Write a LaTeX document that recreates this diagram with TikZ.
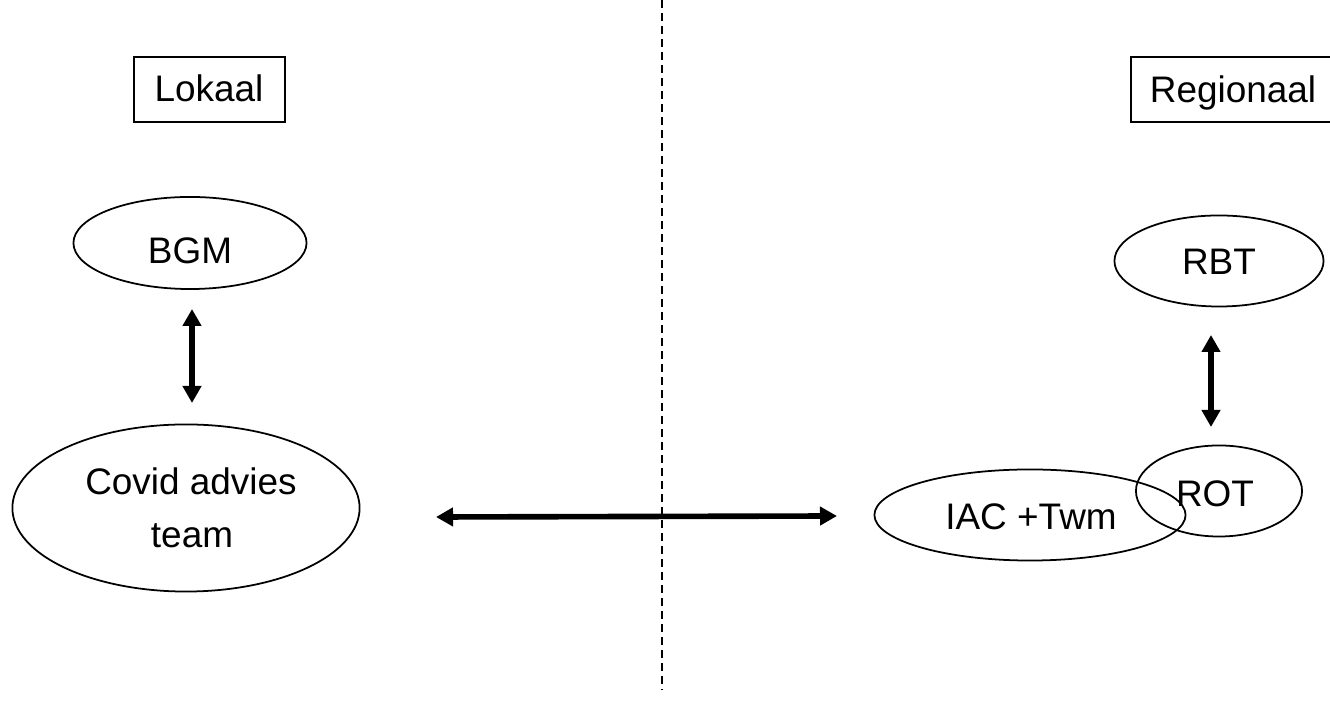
\documentclass[tikz,border=0pt]{standalone}
\usepackage{fontspec}
\setmainfont{Liberation Sans}
\usetikzlibrary{shapes.geometric,arrows.meta}
\begin{document}
\begin{tikzpicture}[x=0.01cm,y=-0.01cm,
  every node/.style={font=\fontsize{10.5}{16.2}\selectfont, inner sep=0pt},
  txt/.style={anchor=base},
  labelbox/.style={draw, line width=0.5pt, anchor=north west},
  unit/.style={draw, ellipse, line width=0.5pt},
  link/.style={line width=1.6pt, {Triangle[length=0.17cm,width=0.18cm]}-{Triangle[length=0.17cm,width=0.18cm]}},
  divider/.style={line width=0.4pt, dash pattern=on 0.08cm off 0.05cm}]
\useasboundingbox (0,0) rectangle (1330,701);

% separator between the local and regional side
\coordinate (divtop) at (662,0);
\coordinate (divbot) at (662,690);
\draw[divider] (divtop) -- (divbot);

% side headings
\node[labelbox, minimum width=1.51cm, minimum height=0.65cm] (lokaal) at (133,56) {};
\node[txt] (lokaaltxt) at (209,102) {Lokaal};
\node[labelbox, minimum width=2.4cm, minimum height=0.65cm] (regio) at (1130,56) {};
\node[txt] (regiotxt) at (1233,103) {Regionaal};

% local side
\node[unit, minimum width=2.33cm, minimum height=0.92cm] (bgm) at (190,243) {};
\node[txt] (bgmtxt) at (190,264) {BGM};
\node[unit, minimum width=3.47cm, minimum height=1.67cm] (cat) at (186,508) {};
\node[txt] (cattxt1) at (191,495) {Covid advies};
\node[txt] (cattxt2) at (192,548) {team};

% regional side
\node[unit, minimum width=2.09cm, minimum height=0.91cm] (rbt) at (1219,261) {};
\node[txt] (rbttxt) at (1219,275) {RBT};
\node[unit, minimum width=3.11cm, minimum height=0.91cm] (iac) at (1030,515) {};
\node[txt] (iactxt) at (1031,530) {IAC +Twm};
\node[unit, minimum width=1.66cm, minimum height=0.91cm] (rot) at (1219,491) {};
\node[txt] (rottxt) at (1215,507) {ROT};

% relations
\coordinate (bgmlow) at (192,309);
\coordinate (catup) at (192,403);
\draw[link] (bgmlow) -- (catup);

\coordinate (rbtlow) at (1211,335);
\coordinate (rotup) at (1211,427);
\draw[link] (rbtlow) -- (rotup);

\coordinate (catright) at (436,517);
\coordinate (iacleft) at (837,516);
\draw[link] (catright) -- (iacleft);
\end{tikzpicture}
\end{document}
